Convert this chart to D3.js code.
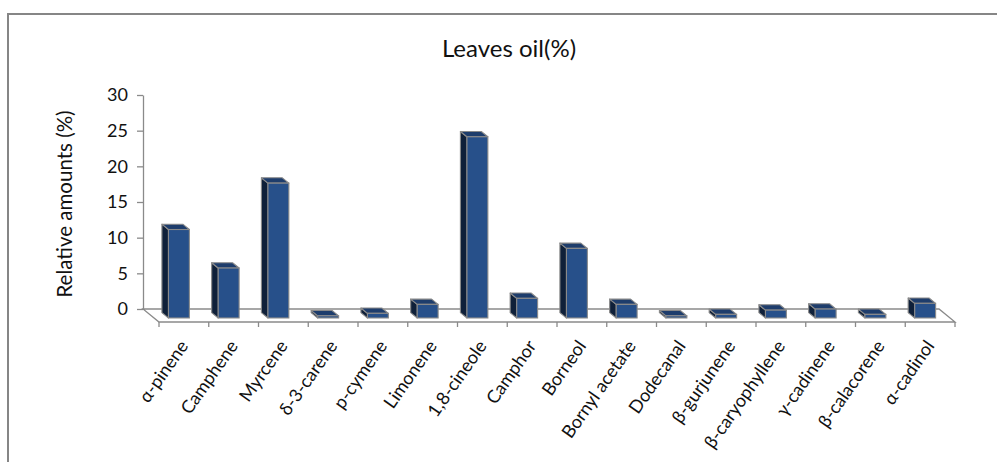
<!DOCTYPE html>
<html>
<head>
<meta charset="utf-8">
<script src="https://cdn.jsdelivr.net/npm/d3@7"></script>
<style>
  html, body { margin: 0; padding: 0; background: #fff; }
  svg { display: block; }
  text { font-family: Lato, "Open Sans", sans-serif; fill: #111; }
</style>
</head>
<body>
<div id="chart"></div>
<script>
// ---- data ----
const categories = ["α-pinene","Camphene","Myrcene","δ-3-carene","p-cymene","Limonene","1,8-cineole","Camphor","Borneol","Bornyl acetate","Dodecanal","β-gurjunene","β-caryophyllene","γ-cadinene","β-calacorene","α-cadinol"];
const leavesOil = [12.4, 7.0, 18.9, 0.3, 0.65, 1.9, 25.4, 2.75, 9.75, 1.9, 0.3, 0.5, 1.1, 1.25, 0.5, 2.05];
const yTickValues = [0, 5, 10, 15, 20, 25, 30];
const chartTitle = "Leaves oil(%)";
const yTitle = "Relative amounts (%)";

// ---- layout ----
const W = 997, H = 462;
const wallX = 143, floorRight = 939;
const depthDX = 16, depthDY = 13;      // floor depth projection
const backFrac = 0.28, frontFrac = 0.69; // bar depth position within floor
const barFrac = 0.42;

const svg = d3.select("#chart").append("svg").attr("width", W).attr("height", H);

// outer frame
svg.append("path").attr("d", `M8,${H} V14 H${W}`).attr("fill", "none")
  .attr("stroke", "#868686").attr("stroke-width", 2);

const x = d3.scaleBand().domain(categories).range([wallX, floorRight]).padding(0);
const y = d3.scaleLinear().domain([0, 30]).range([309, 95]);
const y0 = y(0);
const gray = "#8a8a8a";

// floor
svg.append("polygon")
  .attr("points", [[wallX, y0], [floorRight, y0], [floorRight + depthDX, y0 + depthDY], [wallX + depthDX, y0 + depthDY]].map(p => p.join(",")).join(" "))
  .attr("fill", "#fff").attr("stroke", gray).attr("stroke-width", 1.3);

// category ticks on the front edge of the floor
const tickXs = categories.map(c => x(c) + depthDX).concat([floorRight + depthDX]);
svg.append("g").selectAll("line").data(tickXs).join("line")
  .attr("x1", d => d).attr("x2", d => d)
  .attr("y1", y0 + depthDY).attr("y2", y0 + depthDY + 5)
  .attr("stroke", gray).attr("stroke-width", 1.3);

// value axis on the wall
const yAxis = d3.axisLeft(y).tickValues(yTickValues).tickSize(6).tickSizeOuter(0).tickPadding(9);
const gy = svg.append("g").attr("transform", `translate(${wallX},0)`).call(yAxis);
gy.select(".domain").attr("stroke", gray).attr("stroke-width", 1.3);
gy.selectAll(".tick line").attr("stroke", gray).attr("stroke-width", 1.3);
gy.selectAll(".tick text").style("font-family", "Lato, sans-serif").style("font-size", "18px").attr("fill", "#111");

// bars (3D columns)
const bw = x.bandwidth() * barFrac;
const ob = [backFrac * depthDX, backFrac * depthDY];
const of = [frontFrac * depthDX, frontFrac * depthDY];
const bars = svg.append("g").selectAll("g").data(categories.map((c, i) => ({ c, v: leavesOil[i] }))).join("g");
bars.each(function(d) {
  const g = d3.select(this);
  const bx = x(d.c) + (x.bandwidth() - bw) / 2;
  const yt = y(d.v);
  const side = [[bx + ob[0], yt + ob[1]], [bx + of[0], yt + of[1]], [bx + of[0], y0 + of[1]], [bx + ob[0], y0 + ob[1]]];
  const top = [[bx + ob[0], yt + ob[1]], [bx + ob[0] + bw, yt + ob[1]], [bx + of[0] + bw, yt + of[1]], [bx + of[0], yt + of[1]]];
  g.append("polygon").attr("points", side.map(p => p.join(",")).join(" "))
    .attr("fill", "#0f2039").attr("stroke", gray).attr("stroke-width", 1.1).attr("stroke-linejoin", "round");
  g.append("polygon").attr("points", top.map(p => p.join(",")).join(" "))
    .attr("fill", "#1e3d6c").attr("stroke", gray).attr("stroke-width", 1.1).attr("stroke-linejoin", "round");
  g.append("rect").attr("x", bx + of[0]).attr("y", yt + of[1]).attr("width", bw).attr("height", y0 - yt)
    .attr("fill", "#27508a").attr("stroke", gray).attr("stroke-width", 1.1);
});

// category labels
svg.append("g").selectAll("text").data(categories).join("text")
  .attr("transform", d => `translate(${x(d) + x.bandwidth() / 2 + depthDX + 5},346) rotate(-55)`)
  .attr("text-anchor", "end")
  .style("font-size", "18px")
  .text(d => d);

// titles
svg.append("text").attr("x", 509).attr("y", 57).attr("text-anchor", "middle")
  .style("font-size", "24px").text(chartTitle);
svg.append("text").attr("transform", "translate(72,204) rotate(-90)").attr("text-anchor", "middle")
  .style("font-size", "20.5px").text(yTitle);
</script>
</body>
</html>
